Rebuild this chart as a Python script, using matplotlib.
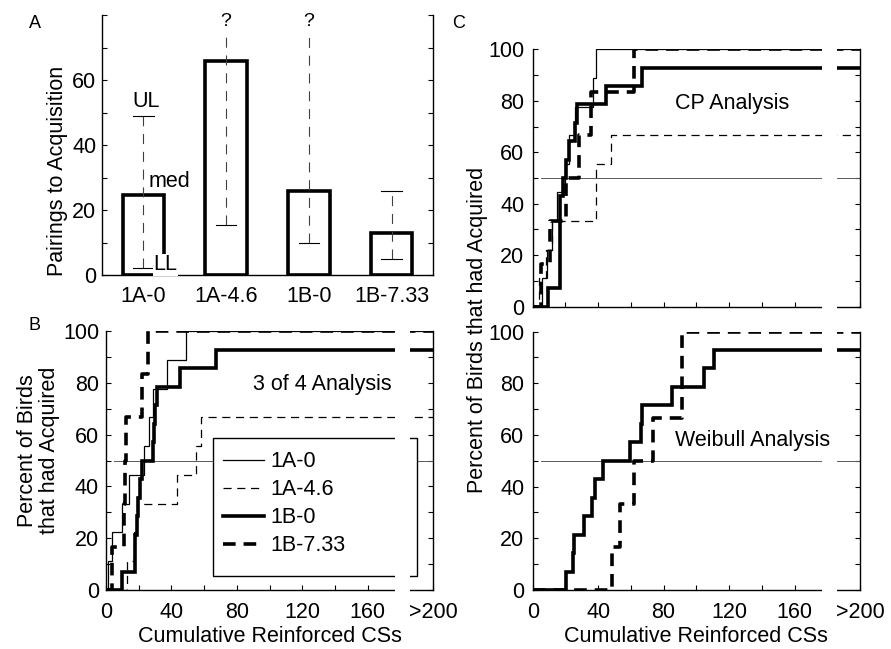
import numpy as np
import matplotlib
matplotlib.use('Agg')
import matplotlib.pyplot as plt
from matplotlib.patches import Rectangle
from matplotlib.lines import Line2D
import matplotlib.transforms as mtransforms

plt.rcParams['font.family'] = ['Liberation Sans', 'DejaVu Sans']
plt.rcParams['font.size'] = 15.5

# ---- panel A: pairings to acquisition (median with lower / upper limits)
groups = ['1A-0', '1A-4.6', '1B-0', '1B-7.33']
median = [24.5, 66, 26, 13]
lower = [2.2, 15.4, 10, 5]
upper = [49, None, None, 26]   # None -> upper limit unknown ("?")

# ---- birds per group
n_birds = [9, 9, 14, 6]

# ---- trial (cumulative reinforced CSs) at which each bird acquired
# birds that never acquired (>200) are left out
b_3of4 = [
    [1, 3.5, 9.5, 14.3, 23, 26, 28.6, 37.6, 49],
    [12.7, 17, 19, 43.5, 55, 58],
    [10, 17.5, 17.5, 19, 19.5, 21, 22, 29, 29.5, 30, 31, 45, 67.5],
    [3.5, 11, 11.5, 12.3, 22.3, 25.4],
]
c_cp = [
    [5.5, 8.6, 11.6, 14.7, 19.5, 22, 26, 37, 38.5],
    [4, 8, 12, 38.5, 38.6, 47.7],
    [9.6, 16.5, 16.6, 16.7, 16.8, 16.9, 18.6, 20.5, 22.4, 26, 27.3, 44.7, 66.7],
    [5, 10.5, 20.5, 28, 35.5, 61.6],
]
c_weibull = [
    None,
    None,
    [20.4, 24.5, 25.3, 31.4, 36.1, 38.2, 42.7, 59.6, 66.3, 66.5, 85.1, 104.9, 111],
    [48.4, 53.5, 61.8, 73.3, 91.2, 91.3],
]
criterion = 50

styles = [
    dict(color='black', lw=0.9, ls='-', zorder=3.2),
    dict(color='black', lw=0.9, ls=(0, (6.5, 4.5)), zorder=3.1),
    dict(color='black', lw=2.6, ls='-', zorder=2.6),
    dict(color='black', lw=2.6, ls=(0, (3.5, 2.2)), zorder=2.5),
]

xticklabels = ['0', '', '40', '', '80', '', '120', '', '160', '', '>200']
yticklabels = ['0', '', '20', '', '40', '', '60', '', '80', '', '100']

fig = plt.figure(figsize=(8.91, 6.49), dpi=100)
W, H = 891.0, 649.0

axA = fig.add_axes([102 / W, 1 - 275 / H, 331 / W, 260 / H])
axB = fig.add_axes([106 / W, 1 - 590 / H, 327 / W, 259 / H])
axC1 = fig.add_axes([532.7 / W, 1 - 306.7 / H, 327.3 / W, 257.4 / H])
axC2 = fig.add_axes([532.7 / W, 1 - 590 / H, 327.3 / W, 258.5 / H])


def draw_steps(ax, acq, n, style):
    k = len(acq)
    xs = np.concatenate([[0], acq, [200]])
    ys = np.concatenate([[0], np.arange(1, k + 1) / n * 100, [k / n * 100]])
    ax.step(xs, ys, where='post', solid_joinstyle='miter', **style)


def style_steps(ax, xlabels, ypad):
    ax.set_xlim(0, 200)
    ax.set_ylim(0, 100)
    ax.set_xticks(np.arange(0, 201, 20))
    ax.set_xticklabels(xticklabels if xlabels else [])
    ax.set_yticks(np.arange(0, 101, 10))
    ax.set_yticklabels(yticklabels)
    ax.tick_params(direction='in', top=False, right=True, length=3.5, width=0.8)
    ax.tick_params(axis='y', pad=ypad)
    ax.tick_params(axis='x', pad=9)
    ax.spines['top'].set_visible(False)
    for s in ['left', 'right', 'bottom']:
        ax.spines[s].set_linewidth(1.0)
    ax.plot([5, 200], [criterion, criterion], color='0.35', lw=0.7, zorder=2)
    # axis break before ">200"
    trans = mtransforms.blended_transform_factory(ax.transData, ax.transAxes)
    ax.add_patch(Rectangle((176.5, -0.03), 9.5, 1.06, transform=trans,
                           facecolor='white', edgecolor='none', zorder=6, clip_on=False))


# ---------------- panel A
x = np.arange(1, len(groups) + 1)
axA.bar(x, median, width=0.5, facecolor='white', edgecolor='black', linewidth=2.6, zorder=2)
for xi, lo, hi in zip(x, lower, upper):
    top = hi if hi is not None else 80
    axA.plot([xi, xi], [lo, top], color='0.25', lw=0.8, ls=(0, (9, 7)), zorder=3, clip_on=False)
    axA.plot([xi - 0.125, xi + 0.125], [lo, lo], color='black', lw=0.8, zorder=3)
    if hi is not None:
        axA.plot([xi - 0.125, xi + 0.125], [hi, hi], color='black', lw=0.8, zorder=3)
    else:
        axA.text(xi, 78, '?', ha='center', va='center', fontsize=14, zorder=4,
                 bbox=dict(facecolor='white', edgecolor='none', pad=0.5))
axA.text(1.03, 50.3, 'UL', ha='center', va='bottom', fontsize=15.5)
axA.text(1.06, 25.6, 'med', ha='left', va='bottom', fontsize=15.5)
axA.text(1.125, 3.2, 'LL', ha='left', va='center', fontsize=15.5, zorder=4,
         bbox=dict(facecolor='white', edgecolor='none', pad=0.3))
axA.set_xlim(0.5, 4.5)
axA.set_ylim(0, 80)
axA.set_xticks(x)
axA.set_xticklabels(groups)
axA.set_yticks(np.arange(0, 81, 10))
axA.set_yticklabels(['0', '', '20', '', '40', '', '60', '', ''])
axA.tick_params(axis='y', direction='in', right=True, length=3.5, width=0.8, pad=4)
axA.tick_params(axis='x', length=0, pad=8)
axA.spines['top'].set_visible(False)
for s in ['left', 'right', 'bottom']:
    axA.spines[s].set_linewidth(1.0)
axA.set_ylabel('Pairings to Acquisition')
axA.yaxis.set_label_coords(-0.103, 0.40)

# ---------------- panel B
style_steps(axB, True, 5)
for acq, n, st in zip(b_3of4, n_birds, styles):
    draw_steps(axB, acq, n, st)
axB.text(132.5, 79.5, '3 of 4 Analysis', ha='center', va='center', zorder=7)
axB.set_xlabel('Cumulative Reinforced CSs', labelpad=2)
axB.set_ylabel('Percent of Birds\nthat had Acquired', linespacing=1.05)
axB.yaxis.set_label_coords(-0.14, 0.54)
axB.add_patch(Rectangle((0.326, 0.054), 0.626, 0.531, transform=axB.transAxes,
                        facecolor='white', edgecolor='black', lw=1.0, zorder=4))
handles = [Line2D([], [], **{k: v for k, v in st.items() if k != 'zorder'}) for st in styles]
leg = axB.legend(handles, groups, loc='upper left', bbox_to_anchor=(0.357, 0.535),
                 frameon=False, borderpad=0, borderaxespad=0, handlelength=1.9,
                 handletextpad=0.3, labelspacing=0.32, fontsize=15.5)
leg.set_zorder(5)

# ---------------- panel C
style_steps(axC1, False, 6)
for acq, n, st in zip(c_cp, n_birds, styles):
    draw_steps(axC1, acq, n, st)
axC1.text(121.7, 79, 'CP Analysis', ha='center', va='center', zorder=7)

style_steps(axC2, True, 6)
for acq, n, st in zip(c_weibull, n_birds, styles):
    if acq is not None:
        draw_steps(axC2, acq, n, st)
axC2.text(134.5, 58, 'Weibull Analysis', ha='center', va='center', zorder=7)
axC2.set_xlabel('Cumulative Reinforced CSs', labelpad=2)

fig.text(477 / W, 1 - 330 / H, 'Percent of Birds that had Acquired', rotation=90,
         ha='center', va='center')

fig.text(35 / W, 1 - 24 / H, 'A', fontsize=13, ha='center', va='center')
fig.text(35 / W, 1 - 325 / H, 'B', fontsize=13, ha='center', va='center')
fig.text(459 / W, 1 - 23 / H, 'C', fontsize=13, ha='center', va='center')

fig.savefig('out.png', dpi=100)
